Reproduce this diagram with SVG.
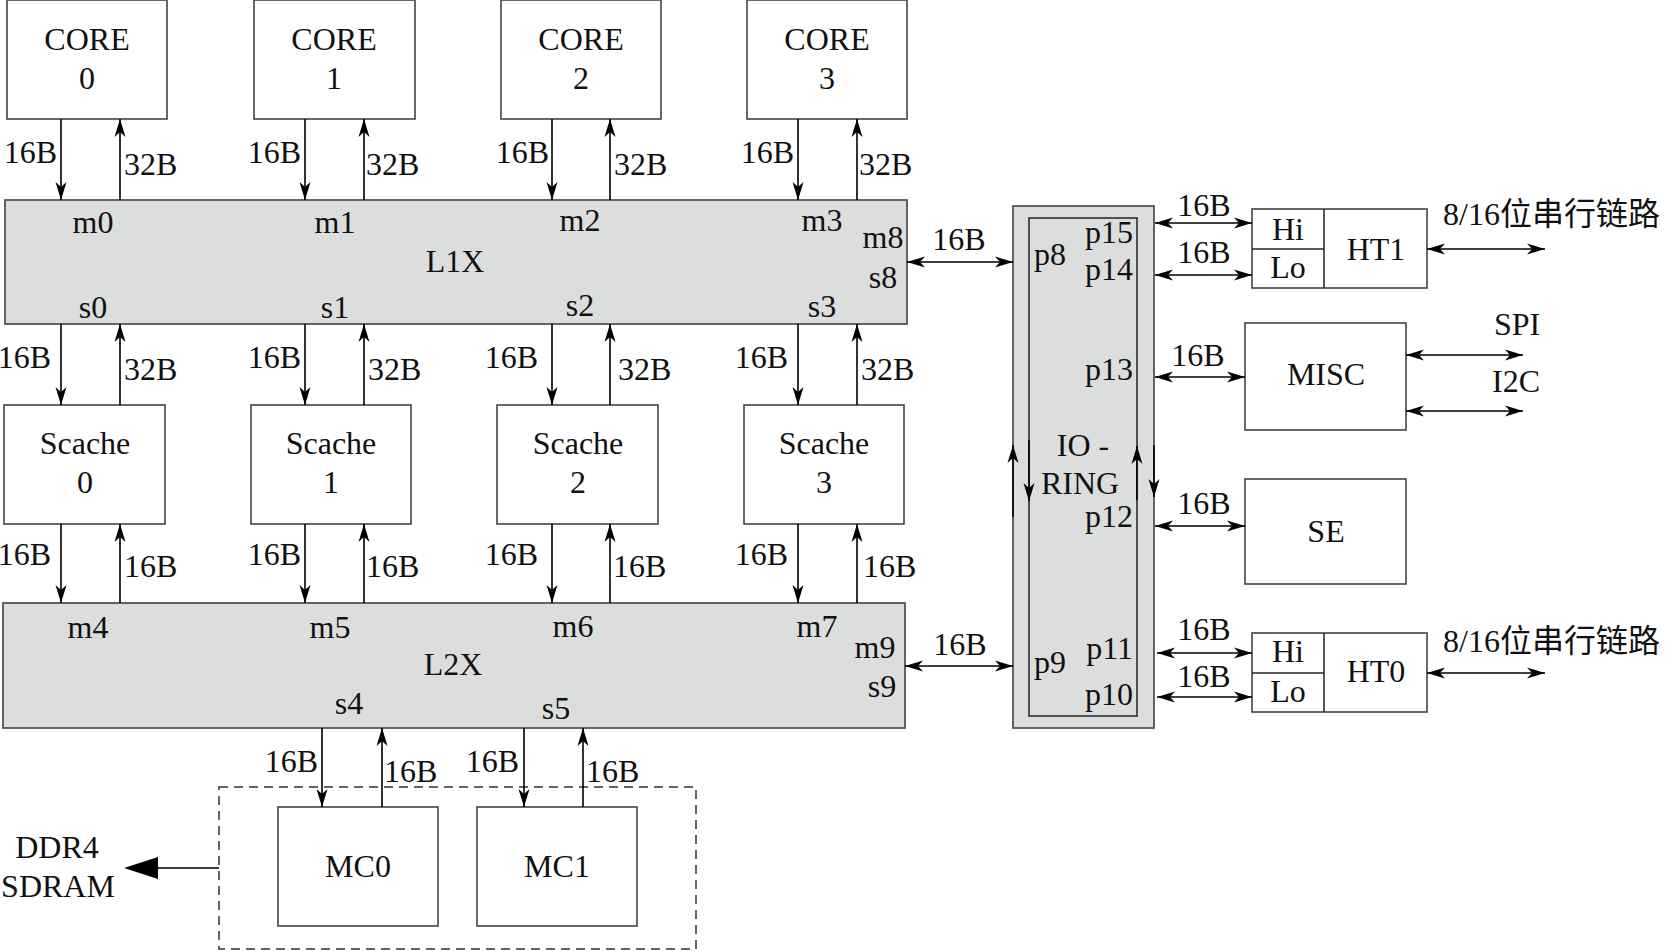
<svg xmlns="http://www.w3.org/2000/svg" width="1668" height="951" viewBox="0 0 1668 951">
<defs>
<marker id="ah" viewBox="0 0 18 12" refX="18" refY="6" markerWidth="18" markerHeight="12" markerUnits="userSpaceOnUse" orient="auto-start-reverse">
<path d="M0,0.5 L18,6 L0,11.5 L5,6 z" fill="#000"/>
</marker>
</defs>
<style>
text{font-family:"Liberation Serif","Noto Sans CJK SC",serif;font-size:32px;fill:#111;text-anchor:middle}
.e{text-anchor:end}
.s{text-anchor:start}
.box{fill:#fff;stroke:#444;stroke-width:1.6}
.bus{fill:#dcdddd;stroke:#555;stroke-width:1.8}
.in{fill:none;stroke:#222;stroke-width:1.5}
.c{stroke:#000;stroke-width:1.6;fill:none}
.a{marker-end:url(#ah)}
.d{marker-start:url(#ah);marker-end:url(#ah)}
</style>
<rect width="1668" height="951" fill="#fff"/>

<g id="core0"><rect class="box" x="7" y="0" width="160" height="119"/><text x="87" y="50">CORE</text><text x="87" y="89">0</text></g>
<g id="core1"><rect class="box" x="254" y="0" width="161" height="119"/><text x="334" y="50">CORE</text><text x="334" y="89">1</text></g>
<g id="core2"><rect class="box" x="501" y="0" width="160" height="119"/><text x="581" y="50">CORE</text><text x="581" y="89">2</text></g>
<g id="core3"><rect class="box" x="747" y="0" width="160" height="119"/><text x="827" y="50">CORE</text><text x="827" y="89">3</text></g>

<g id="l1x"><rect class="bus" x="5" y="200" width="902" height="124"/>
<text x="93" y="233">m0</text><text x="335" y="233">m1</text><text x="580" y="231">m2</text><text x="822" y="231">m3</text>
<text x="93" y="318">s0</text><text x="335" y="318">s1</text><text x="580" y="316">s2</text><text x="822" y="317">s3</text>
<text x="883" y="248">m8</text><text x="883" y="288">s8</text><text x="455" y="272">L1X</text></g>

<g id="scache0"><rect class="box" x="4" y="405" width="161" height="119"/><text x="85" y="454">Scache</text><text x="85" y="493">0</text></g>
<g id="scache1"><rect class="box" x="251" y="405" width="160" height="119"/><text x="331" y="454">Scache</text><text x="331" y="493">1</text></g>
<g id="scache2"><rect class="box" x="497" y="405" width="161" height="119"/><text x="578" y="454">Scache</text><text x="578" y="493">2</text></g>
<g id="scache3"><rect class="box" x="744" y="405" width="160" height="119"/><text x="824" y="454">Scache</text><text x="824" y="493">3</text></g>

<g id="l2x"><rect class="bus" x="3" y="603" width="902" height="125"/>
<text x="88" y="638">m4</text><text x="330" y="638">m5</text><text x="573" y="637">m6</text><text x="817" y="637">m7</text>
<text x="875" y="658">m9</text><text x="882" y="697">s9</text>
<text x="349" y="714">s4</text><text x="556" y="719">s5</text><text x="453" y="675">L2X</text></g>

<g id="mcgroup"><rect x="219" y="787" width="477" height="162" fill="none" stroke="#333" stroke-width="1.5" stroke-dasharray="9,6"/></g>
<g id="mc0"><rect class="box" x="278" y="807" width="160" height="119"/><text x="358" y="877">MC0</text></g>
<g id="mc1"><rect class="box" x="477" y="807" width="160" height="119"/><text x="557" y="877">MC1</text></g>
<g id="ddr4"><text x="57" y="858">DDR4</text><text x="58" y="897">SDRAM</text></g>

<g id="io-ring"><rect class="bus" x="1013" y="206" width="141" height="522"/>
<rect class="in" x="1029" y="218" width="108" height="498"/>
<text x="1050" y="265">p8</text><text x="1050" y="673">p9</text>
<text class="e" x="1133" y="243">p15</text><text class="e" x="1133" y="280">p14</text>
<text class="e" x="1133" y="380">p13</text><text class="e" x="1133" y="527">p12</text>
<text class="e" x="1133" y="659">p11</text><text class="e" x="1133" y="705">p10</text>
<text x="1083" y="456">IO -</text><text x="1080" y="494">RING</text></g>

<g id="ht1"><rect class="box" x="1252" y="209" width="175" height="79"/><line class="in" x1="1324" y1="209" x2="1324" y2="288"/><line class="in" x1="1252" y1="249" x2="1324" y2="249"/>
<text x="1288" y="240">Hi</text><text x="1288" y="278">Lo</text><text x="1376" y="260">HT1</text></g>
<g id="misc"><rect class="box" x="1245" y="323" width="161" height="107"/><text x="1326" y="385">MISC</text></g>
<g id="se"><rect class="box" x="1245" y="479" width="161" height="105"/><text x="1326" y="542">SE</text></g>
<g id="ht0"><rect class="box" x="1252" y="633" width="175" height="79"/><line class="in" x1="1324" y1="633" x2="1324" y2="712"/><line class="in" x1="1252" y1="673" x2="1324" y2="673"/>
<text x="1288" y="662">Hi</text><text x="1288" y="702">Lo</text><text x="1376" y="682">HT0</text></g>

<g id="connectors">
<line class="c a" x1="61" y1="119" x2="61" y2="200"/><line class="c a" x1="120" y1="200" x2="120" y2="119"/>
<line class="c a" x1="305" y1="119" x2="305" y2="200"/><line class="c a" x1="364" y1="200" x2="364" y2="119"/>
<line class="c a" x1="552" y1="119" x2="552" y2="200"/><line class="c a" x1="610" y1="200" x2="610" y2="119"/>
<line class="c a" x1="798" y1="119" x2="798" y2="200"/><line class="c a" x1="857" y1="200" x2="857" y2="119"/>

<line class="c a" x1="61" y1="324" x2="61" y2="405"/><line class="c a" x1="120" y1="405" x2="120" y2="324"/>
<line class="c a" x1="305" y1="324" x2="305" y2="405"/><line class="c a" x1="364" y1="405" x2="364" y2="324"/>
<line class="c a" x1="552" y1="324" x2="552" y2="405"/><line class="c a" x1="610" y1="405" x2="610" y2="324"/>
<line class="c a" x1="798" y1="324" x2="798" y2="405"/><line class="c a" x1="857" y1="405" x2="857" y2="324"/>

<line class="c a" x1="61" y1="524" x2="61" y2="603"/><line class="c a" x1="120" y1="603" x2="120" y2="524"/>
<line class="c a" x1="305" y1="524" x2="305" y2="603"/><line class="c a" x1="364" y1="603" x2="364" y2="524"/>
<line class="c a" x1="552" y1="524" x2="552" y2="603"/><line class="c a" x1="610" y1="603" x2="610" y2="524"/>
<line class="c a" x1="798" y1="524" x2="798" y2="603"/><line class="c a" x1="857" y1="603" x2="857" y2="524"/>

<line class="c a" x1="322" y1="728" x2="322" y2="807"/><line class="c a" x1="382" y1="807" x2="382" y2="728"/>
<line class="c a" x1="524" y1="728" x2="524" y2="807"/><line class="c a" x1="583" y1="807" x2="583" y2="728"/>

<line class="c" x1="219" y1="868" x2="158" y2="868"/><path d="M158,857 L124,868 L158,879 z" fill="#000"/>

<line class="c d" x1="907" y1="262" x2="1013" y2="262"/>
<line class="c d" x1="905" y1="666" x2="1013" y2="666"/>
<line class="c d" x1="1155" y1="223" x2="1252" y2="223"/>
<line class="c d" x1="1155" y1="275" x2="1252" y2="275"/>
<line class="c d" x1="1155" y1="377" x2="1245" y2="377"/>
<line class="c d" x1="1155" y1="526" x2="1245" y2="526"/>
<line class="c d" x1="1157" y1="653" x2="1252" y2="653"/>
<line class="c d" x1="1157" y1="697" x2="1252" y2="697"/>
<line class="c d" x1="1427" y1="249" x2="1545" y2="249"/>
<line class="c d" x1="1427" y1="673" x2="1545" y2="673"/>
<line class="c d" x1="1406" y1="355" x2="1523" y2="355"/>
<line class="c d" x1="1406" y1="411" x2="1523" y2="411"/>

<line class="c a" x1="1013" y1="517" x2="1013" y2="445"/>
<line class="c a" x1="1029" y1="440" x2="1029" y2="501"/>
<line class="c a" x1="1137" y1="500" x2="1137" y2="446"/>
<line class="c a" x1="1154" y1="445" x2="1154" y2="497"/>
</g>

<g id="labels">
<text class="e" x="57" y="163">16B</text><text class="s" x="124" y="175">32B</text>
<text class="e" x="301" y="163">16B</text><text class="s" x="366" y="175">32B</text>
<text class="e" x="549" y="163">16B</text><text class="s" x="614" y="175">32B</text>
<text class="e" x="794" y="163">16B</text><text class="s" x="859" y="175">32B</text>

<text class="e" x="51" y="368">16B</text><text class="s" x="124" y="380">32B</text>
<text class="e" x="301" y="368">16B</text><text class="s" x="368" y="380">32B</text>
<text class="e" x="538" y="368">16B</text><text class="s" x="618" y="380">32B</text>
<text class="e" x="788" y="368">16B</text><text class="s" x="861" y="380">32B</text>

<text class="e" x="51" y="565">16B</text><text class="s" x="124" y="577">16B</text>
<text class="e" x="301" y="565">16B</text><text class="s" x="366" y="577">16B</text>
<text class="e" x="538" y="565">16B</text><text class="s" x="613" y="577">16B</text>
<text class="e" x="788" y="565">16B</text><text class="s" x="863" y="577">16B</text>

<text class="e" x="318" y="772">16B</text><text class="s" x="384" y="782">16B</text>
<text class="e" x="519" y="772">16B</text><text class="s" x="586" y="782">16B</text>

<text x="959" y="250">16B</text><text x="960" y="655">16B</text>
<text x="1204" y="216">16B</text><text x="1204" y="263">16B</text>
<text x="1198" y="366">16B</text><text x="1204" y="514">16B</text>
<text x="1204" y="640">16B</text><text x="1204" y="687">16B</text>

<text class="s" x="1443" y="225">8/16位串行链路</text>
<text class="s" x="1443" y="652">8/16位串行链路</text>
<text x="1517" y="335">SPI</text><text x="1516" y="392">I2C</text>
</g>
</svg>
